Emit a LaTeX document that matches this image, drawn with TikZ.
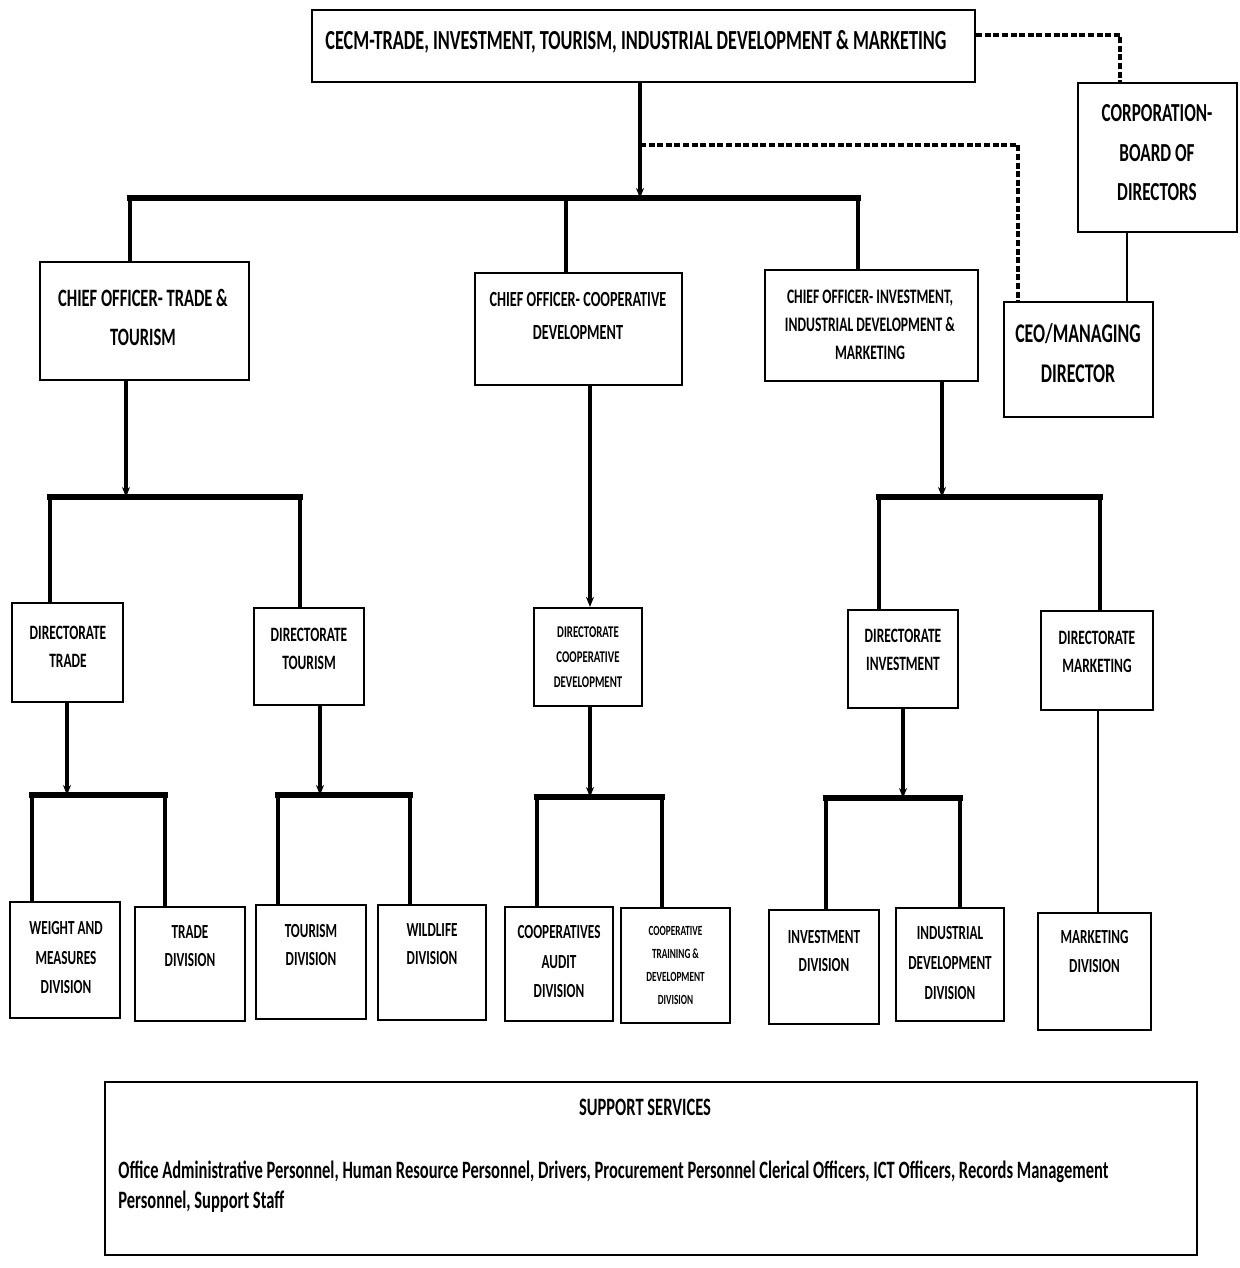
\documentclass[tikz,border=0pt]{standalone}
\usepackage{fontspec}
\newfontfamily\cond{Carlito}[FakeStretch=0.66]
\usetikzlibrary{arrows.meta,calc}
\begin{document}
\begin{tikzpicture}[x=0.5pt,y=-0.5pt,
  box/.style={draw, line width=1.1pt, fill=white, inner sep=0pt},
  lbl/.style={align=center, inner sep=0pt},
  fs/.style 2 args={font={\cond\bfseries\fontsize{#1}{#2}\selectfont}},
  conn/.style={line width=1.6pt},
  arr/.style={line width=1.7pt, -{Stealth[length=5pt,width=4pt]}},
  busline/.style={line width=2.6pt, line cap=rect},
  thinline/.style={line width=1pt},
  dashline/.style={line width=1.6pt, dash pattern=on 3pt off 1.3pt}]

\useasboundingbox[fill=white] (0,0) rectangle (1239,1268);

% ---------- boxes ----------
\node[box, minimum width=331.5pt, minimum height=36pt]   (cecm)   at (643.5,46)   {};
\node[box, minimum width=79.5pt,  minimum height=74.5pt] (corp)   at (1157.5,157.5) {};
\node[box, minimum width=74.5pt,  minimum height=57.5pt] (ceo)    at (1078.5,359.5) {};
\node[box, minimum width=104.5pt, minimum height=59pt]   (cott)   at (144.5,321)  {};
\node[box, minimum width=103.5pt, minimum height=56pt]   (cocd)   at (578.5,329)  {};
\node[box, minimum width=106.5pt, minimum height=55.5pt] (coii)   at (871.5,325.5) {};
\node[box, minimum width=55.5pt,  minimum height=49.5pt] (dtrade) at (67.5,652.5)  {};
\node[box, minimum width=55pt,    minimum height=48.5pt] (dtour)  at (309,656.5)   {};
\node[box, minimum width=54pt,    minimum height=49pt]   (dcoop)  at (588,657)     {};
\node[box, minimum width=55pt,    minimum height=49pt]   (dinv)   at (903,659)     {};
\node[box, minimum width=56pt,    minimum height=49.5pt] (dmkt)   at (1097,660.5)  {};
\node[box, minimum width=55pt,    minimum height=58pt]   (wam)    at (65,960)      {};
\node[box, minimum width=55pt,    minimum height=57pt]   (tdiv)   at (190,964)     {};
\node[box, minimum width=55pt,    minimum height=57pt]   (tourdiv) at (311,962)    {};
\node[box, minimum width=54pt,    minimum height=57.5pt] (wild)   at (432,962.5)   {};
\node[box, minimum width=54pt,    minimum height=57pt]   (caudit) at (559,964)     {};
\node[box, minimum width=54.5pt,  minimum height=57.5pt] (ctrain) at (675.5,965.5) {};
\node[box, minimum width=55pt,    minimum height=57pt]   (invdiv) at (824,967)     {};
\node[box, minimum width=54pt,    minimum height=56.5pt] (inddiv) at (950,964.5)   {};
\node[box, minimum width=56.5pt,  minimum height=58.5pt] (mktdiv) at (1094.5,971.5) {};
\node[box, minimum width=546pt,   minimum height=86.5pt] (support) at (651,1168.5) {};

% ---------- labels ----------
\node[lbl, fs={13.8}{16}]   (cecm-t)   at (636,42)    {CECM-TRADE, INVESTMENT, TOURISM, INDUSTRIAL DEVELOPMENT \& MARKETING};
\node[lbl, fs={13}{19.75}]  (corp-t)   at (1157,153)  {CORPORATION-\\BOARD OF\\DIRECTORS};
\node[lbl, fs={13.5}{20}]   (ceo-t)    at (1078,353)  {CEO/MANAGING\\DIRECTOR};
\node[lbl, fs={12.5}{19.5}] (cott-t)   at (143,317.5) {CHIEF OFFICER- TRADE \&\\TOURISM};
\node[lbl, fs={10.8}{16.5}] (cocd-t)   at (578,315.5) {CHIEF OFFICER- COOPERATIVE\\DEVELOPMENT};
\node[lbl, fs={10.3}{14}]   (coii-t)   at (870,325)   {CHIEF OFFICER- INVESTMENT,\\INDUSTRIAL DEVELOPMENT \&\\MARKETING};
\node[lbl, fs={10.2}{14}]   (dtrade-t) at (68,647)    {DIRECTORATE\\TRADE};
\node[lbl, fs={10.2}{14}]   (dtour-t)  at (309,648.5) {DIRECTORATE\\TOURISM};
\node[lbl, fs={8.2}{12.5}]  (dcoop-t)  at (588,657)   {DIRECTORATE\\COOPERATIVE\\DEVELOPMENT};
\node[lbl, fs={10.2}{14}]   (dinv-t)   at (903,649.5) {DIRECTORATE\\INVESTMENT};
\node[lbl, fs={10.2}{14}]   (dmkt-t)   at (1097,651.5) {DIRECTORATE\\MARKETING};
\node[lbl, fs={10}{14.75}]  (wam-t)    at (66,957.5)  {WEIGHT AND\\MEASURES\\DIVISION};
\node[lbl, fs={10}{14}]     (tdiv-t)   at (190,946)   {TRADE\\DIVISION};
\node[lbl, fs={10}{14}]     (tourdiv-t) at (311,945)  {TOURISM\\DIVISION};
\node[lbl, fs={10}{14}]     (wild-t)   at (432,944)   {WILDLIFE\\DIVISION};
\node[lbl, fs={10}{14.75}]  (caudit-t) at (559,961.5) {COOPERATIVES\\AUDIT\\DIVISION};
\node[lbl, fs={7}{11.5}]    (ctrain-t) at (675.5,965) {COOPERATIVE\\TRAINING \&\\DEVELOPMENT\\DIVISION};
\node[lbl, fs={10}{14}]     (invdiv-t) at (824,951)   {INVESTMENT\\DIVISION};
\node[lbl, fs={10}{15}]     (inddiv-t) at (950,963)   {INDUSTRIAL\\DEVELOPMENT\\DIVISION};
\node[lbl, fs={10}{14.5}]   (mktdiv-t) at (1094.5,951.5) {MARKETING\\DIVISION};
\node[lbl, fs={12.5}{15}]   (sup-t)    at (645,1107)  {SUPPORT SERVICES};
\node[lbl, fs={12.5}{15}, align=left, anchor=west] (sup-b) at (118,1187)
  {Office Administrative Personnel, Human Resource Personnel, Drivers, Procurement Personnel Clerical Officers, ICT Officers, Records Management\\Personnel, Support Staff};

% ---------- junction points ----------
\coordinate (j1) at (640,198);
\coordinate (j2) at (126,497);
\coordinate (j3) at (942,497);
\coordinate (j4) at (67,795);
\coordinate (j5) at (320,795);
\coordinate (j6) at (590,797);
\coordinate (j7) at (903,798);
\coordinate (dj) at (640,145);

% ---------- level 1 ----------
\draw[arr] (cecm.south -| j1) -- (j1);
\draw[busline] (j1 -| 130,0) -- (j1 -| 858,0);
\draw[conn] (j1 -| 130,0) -- (cott.north -| 130,0);
\draw[conn] (j1 -| 566,0) -- (cocd.north -| 566,0);
\draw[conn] (j1 -| 858,0) -- (coii.north -| 858,0);

% ---------- corporation links ----------
\draw[dashline] (cecm.east |- 0,35) -| (corp.north -| 1120,0);
\draw[dashline] (dj) -| (ceo.north -| 1018,0);
\draw[thinline] (corp.south -| 1127,0) -- (ceo.north -| 1127,0);

% ---------- level 2 ----------
\draw[arr] (cott.south -| j2) -- (j2);
\draw[busline] (j2 -| 50,0) -- (j2 -| 300,0);
\draw[conn] (j2 -| 50,0) -- (dtrade.north -| 50,0);
\draw[conn] (j2 -| 300,0) -- (dtour.north -| 300,0);
\draw[arr] (cocd.south -| 590,0) -- (dcoop.north -| 590,0);
\draw[arr] (coii.south -| j3) -- (j3);
\draw[busline] (j3 -| 879,0) -- (j3 -| 1100,0);
\draw[conn] (j3 -| 879,0) -- (dinv.north -| 879,0);
\draw[conn] (j3 -| 1100,0) -- (dmkt.north -| 1100,0);

% ---------- level 3 ----------
\draw[arr] (dtrade.south -| j4) -- (j4);
\draw[busline] (j4 -| 32,0) -- (j4 -| 165,0);
\draw[conn] (j4 -| 32,0) -- (wam.north -| 32,0);
\draw[conn] (j4 -| 165,0) -- (tdiv.north -| 165,0);
\draw[arr] (dtour.south -| j5) -- (j5);
\draw[busline] (j5 -| 278,0) -- (j5 -| 410,0);
\draw[conn] (j5 -| 278,0) -- (tourdiv.north -| 278,0);
\draw[conn] (j5 -| 410,0) -- (wild.north -| 410,0);
\draw[arr] (dcoop.south -| j6) -- (j6);
\draw[busline] (j6 -| 537,0) -- (j6 -| 662,0);
\draw[conn] (j6 -| 537,0) -- (caudit.north -| 537,0);
\draw[conn] (j6 -| 662,0) -- (ctrain.north -| 662,0);
\draw[arr] (dinv.south -| j7) -- (j7);
\draw[busline] (j7 -| 826,0) -- (j7 -| 960,0);
\draw[conn] (j7 -| 826,0) -- (invdiv.north -| 826,0);
\draw[conn] (j7 -| 960,0) -- (inddiv.north -| 960,0);
\draw[thinline] (dmkt.south -| 1098,0) -- (mktdiv.north -| 1098,0);

\end{tikzpicture}
\end{document}
